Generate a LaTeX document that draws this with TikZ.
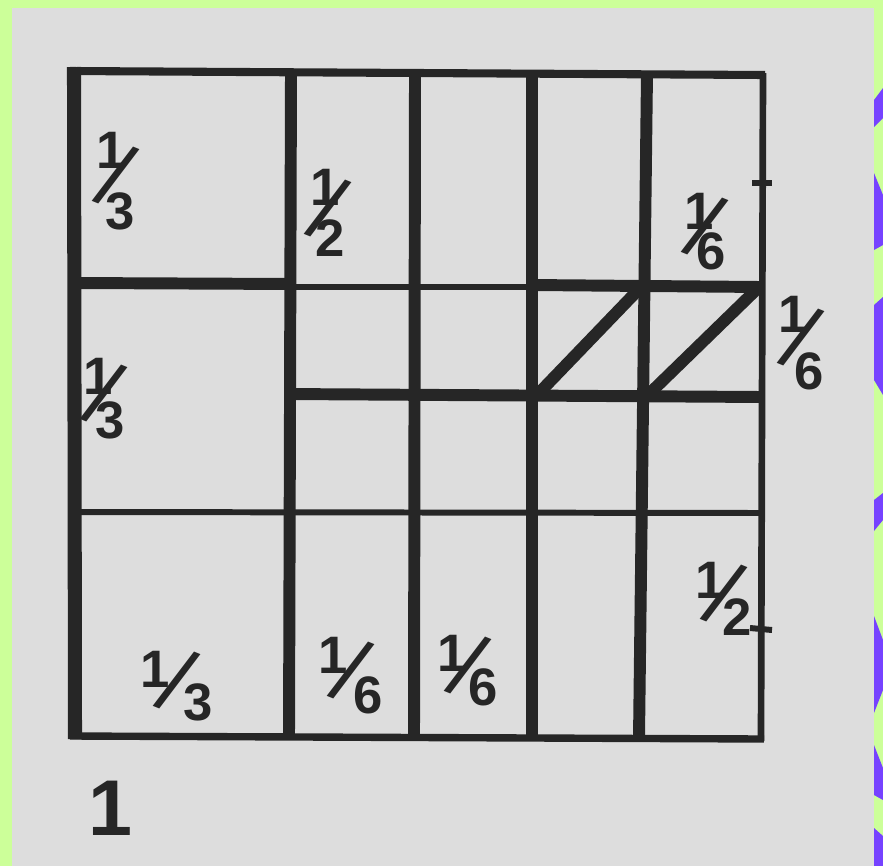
\documentclass[tikz,border=0pt]{standalone}
\usepackage{fontspec}
\setmainfont{Liberation Sans}
\usepackage{graphicx}
\usetikzlibrary{positioning}
\definecolor{mat}{RGB}{204,255,153}
\definecolor{paper}{RGB}{221,221,221}
\definecolor{ink}{RGB}{38,38,38}
\definecolor{blot}{RGB}{118,66,255}
% slanted fraction: #1 shift of the denominator, #2 half the vertical gap
\newcommand{\hfr}[4]{\makebox[0pt][l]{\raisebox{#2}{#3}}%
  \makebox[0pt][l]{\kern\dimexpr .28em+#1/2\relax\makebox[0pt][c]{\raisebox{-.17em}{\mdseries\scalebox{1.7}{\rotatebox[origin=c]{-22}{/}}}}}%
  \kern#1\raisebox{-#2}{#4}}

\begin{document}
\begin{tikzpicture}[x=0.02cm, y=-0.02cm,
    every node/.style={inner sep=0pt, text=ink},
    heavy/.style={draw=ink, line width=6.8pt},
    light/.style={draw=ink, line width=3.4pt},
    slant/.style={draw=ink, line width=6.8pt, line cap=round},
    part/.style={font=\fontsize{30}{30}\bfseries\selectfont},
    unit/.style={font=\fontsize{45}{45}\bfseries\selectfont}]

  \useasboundingbox (0,0) rectangle (883,866);
  \fill[mat] (0,0) rectangle (883,866);
  \fill[paper] (12,8) rectangle (874,866);
  % purple scraps on the right edge
  \fill[blot] (874,100) -- (883,88) -- (883,118) -- (874,127) -- cycle;
  \fill[blot] (874,173) -- (883,195) -- (883,245) -- (874,250) -- cycle;
  \fill[blot] (874,305) -- (883,297) -- (883,395) -- (874,380) -- cycle;
  \fill[blot] (874,500) -- (883,493) -- (883,520) -- (874,531) -- cycle;
  \fill[blot] (874,616) -- (883,640) -- (883,690) -- (874,713) -- cycle;
  \fill[blot] (874,745) -- (883,768) -- (883,800) -- (874,795) -- cycle;
  \fill[blot] (874,828) -- (883,836) -- (883,866) -- (874,866) -- cycle;

  % outer square
  \draw[heavy, line width=8pt] (74,67) -- (75,739);
  \draw[heavy, line width=4.6pt] (70,71) -- (765,75);
  \draw[heavy, line width=4.2pt] (70,736) -- (764,739);
  \draw[light, line width=3.8pt] (763,73) -- (761,741);
  % columns
  \draw[heavy] (291,72) -- (289,737);
  \draw[heavy] (415,73) -- (414,738);
  \draw[heavy] (532,73) -- (532,738);
  \draw[heavy] (647,74) -- (639,738);
  % rows
  \draw[heavy] (75,283) -- (294,284);
  \draw[light] (291,287) -- (532,287);
  \draw[heavy] (532,285) -- (761,287);
  \draw[heavy] (286,394) -- (762,397);
  \draw[light] (75,512) -- (762,513);
  % diagonals
  \draw[slant] (538,394) -- (641,287);
  \draw[slant] (649,394) -- (758,288);
  % ticks on the right edge
  \draw[light] (752,183) -- (772,183);
  \draw[light] (750,628) -- (772,630);

  \node[part] (third1) at (116,181) {\hfr{.17em}{.58em}{1}{3}};
  \node[part] (half1) at (328,213) {\hfr{.1em}{.48em}{1}{2}};
  \node[part] (third2) at (104,399) {\hfr{.23em}{.42em}{1}{3}};
  \node[part] (third3) at (177,683) {\hfr{.81em}{.31em}{1}{3}};
  \node[part] (sixth1) at (351,675) {\hfr{.66em}{.38em}{1}{6}};
  \node[part] (sixth2) at (468,668) {\hfr{.59em}{.32em}{1}{6}};
  \node[part] (sixth3) at (705,231) {\hfr{.23em}{.38em}{1}{6}};
  \node[part] (sixth4) at (801,343) {\hfr{.3em}{.54em}{1}{6}};
  \node[part] (half2) at (724,597) {\hfr{.51em}{.35em}{1}{2}};
  \node[unit] (one) at (110,808) {1};
\end{tikzpicture}
\end{document}
